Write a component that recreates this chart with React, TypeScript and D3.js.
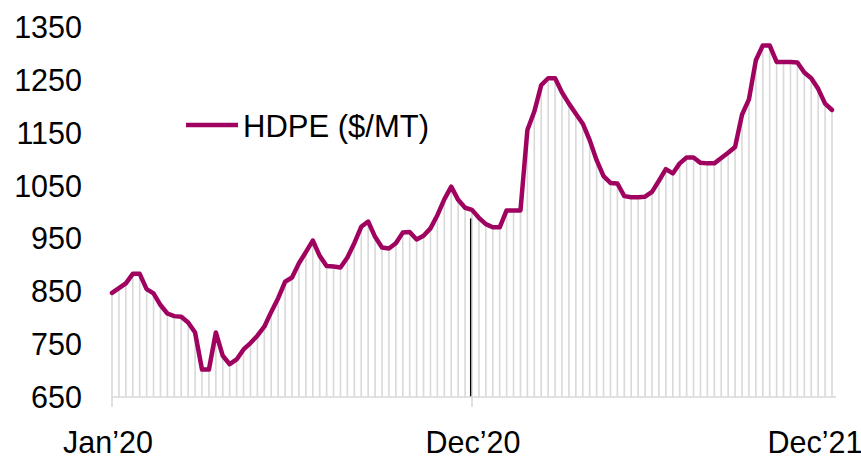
import React from "react";
import * as d3 from "d3";

// Weekly HDPE price ($/MT), Jan'20 .. Dec'21
const hdpe: number[] = [
  847, 856, 865, 883, 883, 854, 846, 824, 808, 803,
  802, 791, 772, 702, 702, 772, 728, 712, 721, 740,
  752, 766, 783, 811, 837, 868, 876, 903, 924, 946,
  917, 898, 897, 895, 914, 941, 972, 982, 953, 933,
  931, 941, 961, 962, 948, 955, 969, 994, 1024, 1048,
  1023, 1008, 1004, 989, 977, 971, 971, 1003, 1003, 1003,
  1155, 1190, 1240, 1253, 1253, 1226, 1205, 1186, 1167, 1136,
  1098, 1068, 1055, 1054, 1030, 1028, 1028, 1029, 1038, 1059,
  1081, 1073, 1092, 1103, 1103, 1093, 1092, 1092, 1102, 1112,
  1123, 1184, 1213, 1287, 1315, 1315, 1284, 1284, 1284, 1283,
  1264, 1253, 1233, 1205, 1193,
];

const yTicks: number[] = [650, 750, 850, 950, 1050, 1150, 1250, 1350];
const xTickLabels: string[] = ["Jan’20", "Dec’20", "Dec’21"];
const xTickIndex: number[] = [0, 52, 104];
const xTickMarks: number[] = [0, 52];
const markerIndex: number[] = [51.8];
const markerValue: number[] = [988];
const seriesName = "HDPE ($/MT)";

const W = 861;
const H = 458;
const LINE = "#A0035F";
const GRID = "#D9D9D9";

export default function App() {
  const x = d3.scaleLinear().domain([0, hdpe.length - 1]).range([112, 832]);
  const y = d3.scaleLinear().domain([650, 1350]).range([397, 27]);
  const line = d3
    .line<number>()
    .x((_, i) => x(i))
    .y((d) => y(d));

  const font = "Arial, 'Liberation Sans', sans-serif";
  const xOffsets = [-4, 1, -17];

  return (
    <svg
      width={W}
      height={H}
      style={{ position: "absolute", left: 0, top: 0, background: "#fff" }}
    >
      {/* drop lines */}
      {hdpe.map((v, i) => (
        <line
          key={i}
          x1={x(i)}
          x2={x(i)}
          y1={y(v)}
          y2={y(650)}
          stroke={GRID}
          strokeWidth={1.6}
        />
      ))}
      {/* marker line */}
      {markerIndex.map((mi, k) => (
        <line
          key={"m" + k}
          x1={x(mi)}
          x2={x(mi)}
          y1={y(markerValue[k])}
          y2={y(650)}
          stroke="#000"
          strokeWidth={1.3}
        />
      ))}
      {/* x axis */}
      <line x1={x(0)} x2={x(hdpe.length - 1) + 4} y1={y(650)} y2={y(650)} stroke={GRID} strokeWidth={1.6} />
      {xTickMarks.map((t) => (
        <line key={"t" + t} x1={x(t)} x2={x(t)} y1={y(650)} y2={y(650) + 10} stroke={GRID} strokeWidth={1.6} />
      ))}
      {/* series line */}
      <path
        d={line(hdpe) || ""}
        fill="none"
        stroke={LINE}
        strokeWidth={4.5}
        strokeLinejoin="round"
        strokeLinecap="round"
      />
      {/* y labels */}
      {yTicks.map((t) => (
        <text
          key={"y" + t}
          x={82}
          y={y(t)}
          textAnchor="end"
          dominantBaseline="central"
          fontFamily={font}
          fontSize={30.5}
          fill="#000"
        >
          {t}
        </text>
      ))}
      {/* x labels */}
      {xTickLabels.map((lab, k) => (
        <text
          key={"x" + k}
          x={x(xTickIndex[k]) + xOffsets[k]}
          y={453}
          textAnchor="middle"
          fontFamily={font}
          fontSize={30.5}
          fill="#000"
        >
          {lab}
        </text>
      ))}
      {/* legend */}
      <line x1={186} x2={238} y1={125} y2={125} stroke={LINE} strokeWidth={4.5} />
      <text x={243} y={126} dominantBaseline="central" fontFamily={font} fontSize={31} fill="#000">
        {seriesName}
      </text>
    </svg>
  );
}
